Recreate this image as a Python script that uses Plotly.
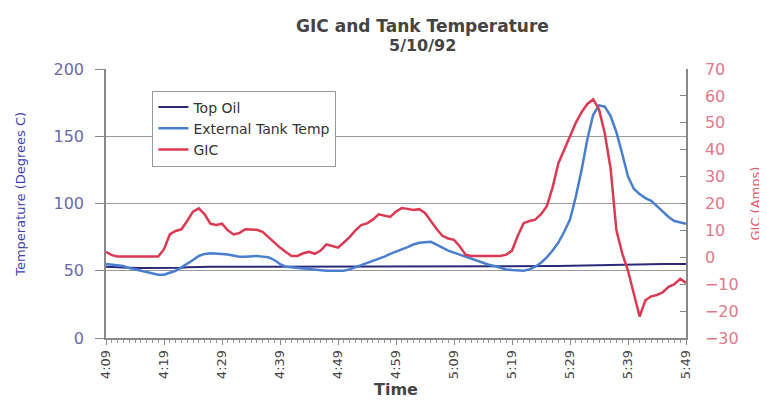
import pandas as pd
import plotly.graph_objects as go

# Time axis: one sample per minute, 4:09 to 5:49 on 5/10/92
times = pd.date_range("1992-05-10 04:09", "1992-05-10 05:49", freq="min")

top_oil = [
    53, 53, 52.8, 52.5, 52.3, 52, 52, 52, 52, 52,
    52, 52, 52, 52.3, 52.6, 52.8, 53, 53, 53, 53,
    53, 53, 53, 53, 53, 53, 53, 53, 53, 53,
    53, 53, 53, 53, 53, 53, 53, 53.2, 53.4, 53.5,
    53.5, 53.5, 53.5, 53.5, 53.5, 53.5, 53.5, 53.5, 53.5, 53.5,
    53.5, 53.5, 53.5, 53.5, 53.5, 53.5, 53.5, 53.5, 53.5, 53.5,
    53.5, 53.5, 53.5, 53.5, 53.5, 53.5, 53.5, 53.5, 53.5, 53.5,
    53.5, 53.5, 53.5, 53.5, 53.5, 53.5, 53.5, 53.5, 53.6, 53.7,
    53.8, 53.9, 54, 54.1, 54.2, 54.3, 54.4, 54.5, 54.6, 54.7,
    54.8, 54.9, 55, 55, 55, 55, 55, 55, 55, 55,
    55,
]

ext_tank = [
    55, 54.5, 54, 53.5, 52, 51, 50, 49, 48, 47,
    47, 48.5, 50, 52.5, 55, 58, 61, 62.5, 63, 63,
    62.5, 62, 61, 60.5, 60.5, 61, 61, 60.5, 60, 58,
    55, 53, 52.5, 52, 51.5, 51, 50.5, 50, 50, 50,
    50, 50, 51, 52.5, 54, 55.5, 57, 58.5, 60.5, 62.5,
    64, 66, 67.5, 69.5, 70.8, 71.2, 71.5, 69.5, 67, 65,
    63.5, 62, 60.5, 59, 57, 55.5, 54.5, 53.5, 52, 51,
    50.5, 50, 50, 51, 53, 56, 60, 65, 71, 79,
    88, 105, 125, 148, 166, 173, 172, 165, 153, 137,
    120, 111, 107, 104, 102, 98, 94, 90, 87, 86,
    85,
]

gic = [
    2, 0.8, 0.3, 0.3, 0.3, 0.3, 0.3, 0.3, 0.3, 0.3,
    3, 8.5, 9.8, 10.4, 13.5, 17, 18.2, 16, 12.5, 12,
    12.5, 10, 8.5, 9, 10.4, 10.2, 10.2, 9.5, 7.5, 5.5,
    3.6, 2, 0.5, 0.5, 1.5, 2, 1.3, 2.5, 4.8, 4.2,
    3.6, 5.5, 7.5, 10, 12, 12.6, 14, 16, 15.5, 15,
    17, 18.3, 18, 17.6, 17.9, 16.5, 13.5, 10.5, 8, 7,
    6.5, 4, 1, 0.5, 0.5, 0.5, 0.5, 0.5, 0.5, 1,
    2.5, 8, 12.7, 13.5, 14, 16, 19, 26, 35, 40,
    45, 50, 54, 57, 58.7, 55, 46, 33, 10, 1.5,
    -5, -14, -22, -16, -14.5, -14, -13, -11, -10, -8,
    -9.5,
]

FONT = "DejaVu Sans"

fig = go.Figure()
fig.add_trace(go.Scatter(x=times, y=top_oil, name="Top Oil", mode="lines",
                         line=dict(color="#2b2a78", width=2)))
fig.add_trace(go.Scatter(x=times, y=ext_tank, name="External Tank Temp", mode="lines",
                         line=dict(color="#4a7fcf", width=2.5)))
fig.add_trace(go.Scatter(x=times, y=gic, name="GIC", mode="lines", yaxis="y2",
                         line=dict(color="#dc3a52", width=2.5)))

annotations = [
    dict(text="<b>GIC and Tank Temperature</b>", x=0.546, y=1.158, xref="paper", yref="paper",
         xanchor="center", yanchor="middle", showarrow=False,
         font=dict(size=17, color="#444", family=FONT)),
    dict(text="<b>5/10/92</b>", x=0.546, y=1.088, xref="paper", yref="paper",
         xanchor="center", yanchor="middle", showarrow=False,
         font=dict(size=16, color="#444", family=FONT)),
    dict(text="Temperature (Degrees C)", x=-0.148, y=0.533, xref="paper", yref="paper",
         xanchor="center", yanchor="middle", textangle=-90, showarrow=False,
         font=dict(size=13, color="#3f3fb2", family=FONT)),
    dict(text="GIC (Amps)", x=1.119, y=0.5, xref="paper", yref="paper",
         xanchor="center", yanchor="middle", textangle=-90, showarrow=False,
         font=dict(size=13, color="#e05a70", family=FONT)),
]

fig.update_layout(
    width=767, height=400,
    margin=dict(l=98, r=89, t=61, b=67),
    paper_bgcolor="white", plot_bgcolor="white",
    font=dict(family=FONT, color="#444"),
    annotations=annotations,
    showlegend=True,
    legend=dict(x=0.08, y=0.92, xanchor="left", yanchor="top",
                bgcolor="white", bordercolor="#999", borderwidth=1,
                font=dict(size=14, color="#333", family=FONT),
                tracegroupgap=0, itemwidth=30),
    xaxis=dict(
        type="date",
        range=[times[0], times[-1]],
        tick0=times[0], dtick=600000,
        tickformat="%-H:%M", tickangle=-90,
        ticks="outside", ticklen=5, tickcolor="#888",
        minor=dict(dtick=60000, ticks="outside", ticklen=3, tickcolor="#999"),
        showline=True, linecolor="#888", linewidth=1.5,
        showgrid=False, zeroline=False,
        tickfont=dict(size=13, color="#444"),
        title=dict(text="<b>Time</b>", font=dict(size=16, color="#444"), standoff=6),
    ),
    yaxis=dict(
        range=[0, 200], dtick=50,
        showgrid=True, gridcolor="#9a9a9a", gridwidth=1,
        ticks="outside", ticklen=9, tickcolor="#888",
        showline=True, linecolor="#888", linewidth=1.5,
        zeroline=False,
        ticklabelstandoff=8,
        tickfont=dict(size=16, color="#6a6aaa"),
    ),
    yaxis2=dict(
        overlaying="y", side="right",
        range=[-30, 70], dtick=10,
        showgrid=False, zeroline=False,
        ticks="inside", ticklen=6, tickcolor="#888",
        showline=True, linecolor="#888", linewidth=1.5,
        ticklabelstandoff=14,
        tickfont=dict(size=16, color="#e07a8a"),
    ),
)

fig.write_html("out.html")
